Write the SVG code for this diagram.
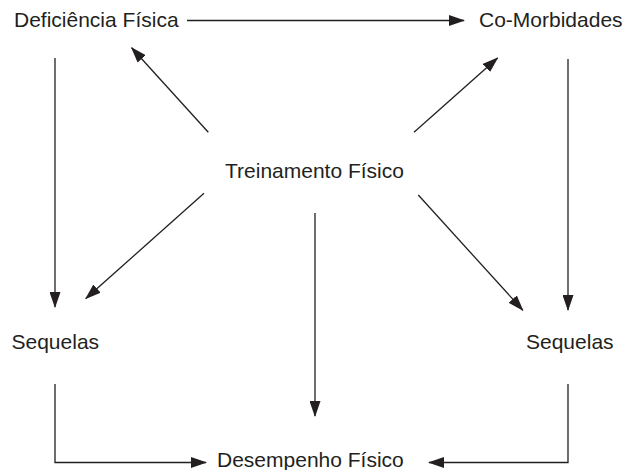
<svg xmlns="http://www.w3.org/2000/svg" width="622" height="470" viewBox="0 0 622 470">
  <style>
    .lbl { font-family: "Liberation Sans", Arial, sans-serif; font-size: 21px; fill: #231f20; }
    .con { stroke: #231f20; stroke-width: 1.3; fill: none; marker-end: url(#arr); }
  </style>
  <defs>
    <marker id="arr" viewBox="0 0 16 11" refX="15" refY="5.5" markerWidth="16" markerHeight="11" markerUnits="userSpaceOnUse" orient="auto">
      <path d="M0,0 L16,5.5 L0,11 Z" fill="#231f20"/>
    </marker>
  </defs>
  <rect width="622" height="470" fill="#ffffff"/>
  <g id="connectors">
    <line class="con" x1="187" y1="20.5" x2="464" y2="20.5"/>
    <line class="con" x1="55" y1="58" x2="55" y2="307"/>
    <line class="con" x1="568" y1="59" x2="568" y2="310"/>
    <line class="con" x1="208.3" y1="132.3" x2="131.6" y2="47.8"/>
    <line class="con" x1="414" y1="132.3" x2="497.6" y2="58"/>
    <line class="con" x1="204" y1="193.3" x2="85.8" y2="298.6"/>
    <line class="con" x1="418.3" y1="195" x2="522.8" y2="310.2"/>
    <line class="con" x1="315" y1="213" x2="315" y2="416"/>
    <polyline class="con" points="55,384 55,462.5 206,462.5"/>
    <polyline class="con" points="568,384 568,462.5 429,462.5"/>
  </g>
  <g id="deficiencia"><text class="lbl" x="14" y="27.3">Deficiência Física</text></g>
  <g id="comorbidades"><text class="lbl" x="479" y="27.3">Co-Morbidades</text></g>
  <g id="treinamento"><text class="lbl" x="225" y="177.5">Treinamento Físico</text></g>
  <g id="sequelas-esq"><text class="lbl" x="11.5" y="349">Sequelas</text></g>
  <g id="sequelas-dir"><text class="lbl" x="526" y="349">Sequelas</text></g>
  <g id="desempenho"><text class="lbl" x="217" y="466.5">Desempenho Físico</text></g>
</svg>
